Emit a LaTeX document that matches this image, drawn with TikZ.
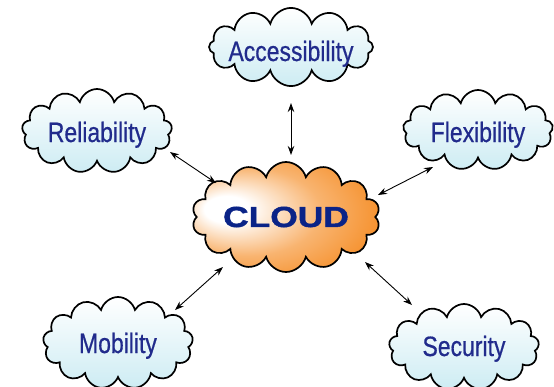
\documentclass[tikz,border=0pt]{standalone}
\usepackage{fontspec}
\usepackage{tikz}
\usetikzlibrary{shapes.symbols,arrows.meta}
\newfontfamily\topicfont[FakeStretch=0.82,FakeBold=0.6]{Liberation Sans}
\newfontfamily\hubfont[FakeStretch=1.22,FakeBold=1.6]{Liberation Sans}
\definecolor{labelblue}{RGB}{33,43,140}
\definecolor{hubblue}{RGB}{10,35,135}
\definecolor{cloudcyan}{RGB}{205,236,243}
\definecolor{cloudorange}{RGB}{245,140,36}
\pgfdeclareradialshading{glow}{\pgfpoint{-18bp}{4bp}}{color(0bp)=(white); color(6bp)=(white); color(20bp)=(cloudorange!65); color(34bp)=(cloudorange); color(50bp)=(cloudorange)}
\tikzset{
  topic/.style={cloud, cloud puffs=13, cloud ignores aspect, draw=black, line width=1.7pt,
    top color=white, bottom color=cloudcyan, minimum width=150pt, minimum height=78pt,
    inner sep=0pt, text=labelblue, font=\topicfont\fontsize{28}{28}\selectfont},
  textdrop/.style={text height=#1, text depth=6pt},
  hub/.style={cloud, cloud puffs=14, cloud ignores aspect, draw=black, line width=1.7pt,
    shading=glow, minimum width=188pt, minimum height=110pt, inner sep=0pt,
    text=hubblue, font=\hubfont\bfseries\fontsize{29}{29}\selectfont},
  link/.style={{Stealth[length=9pt,width=6.5pt]}-{Stealth[length=9pt,width=6.5pt]}, line width=0.9pt}
}
\begin{document}
\begin{tikzpicture}[x=1pt,y=1pt,yscale=-1]
\useasboundingbox (0,0) rectangle (554,386);

% Clouds
\node[hub] (hub) at (286,217) {CLOUD};
\node[topic, cloud puffs=12, minimum width=160pt, minimum height=76pt, textdrop=34pt, inner xsep=-6pt, inner ysep=-3pt] (acc) at (291,47) {Accessibility};
\node[topic, minimum height=84pt, textdrop=28pt] (rel) at (97,131) {Reliability};
\node[topic, minimum height=80pt, textdrop=30pt] (flex) at (478,130) {Flexibility};
\node[topic, minimum height=92pt, textdrop=26pt] (mob) at (118,343) {Mobility};
\node[topic, minimum height=86pt, textdrop=24pt] (sec) at (464,347) {Security};

% Links
\draw[link] ([shift={(0,56)}]acc.center) -- ([shift={(5,-62)}]hub.center);
\draw[link] ([shift={(73,21)}]rel.center) -- ([shift={(-70,-34)}]hub.center);
\draw[link] ([shift={(-45,37)}]flex.center) -- ([shift={(92,-22)}]hub.center);
\draw[link] ([shift={(57,-33)}]mob.center) -- ([shift={(-63,50)}]hub.center);
\draw[link] ([shift={(-52,-42)}]sec.center) -- ([shift={(79,45)}]hub.center);

\end{tikzpicture}
\end{document}
